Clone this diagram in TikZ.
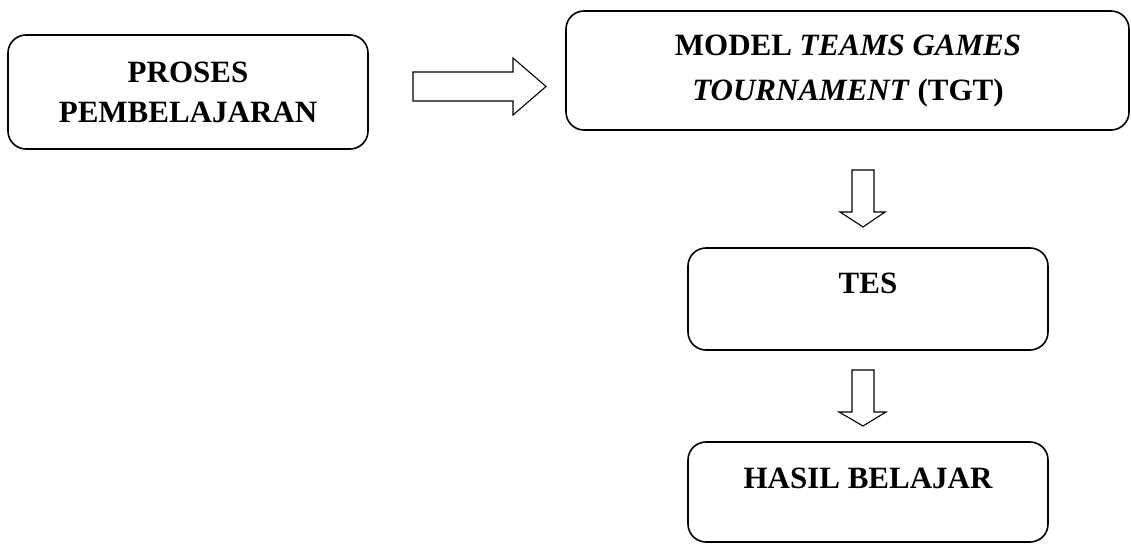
\documentclass[tikz,border=0pt]{standalone}
\usepackage{fontspec}
\setmainfont{Liberation Serif}
\begin{document}
\begin{tikzpicture}[x=1pt,y=-1pt,
  box/.style={draw=black,line width=1.6pt,rounded corners=18pt,rectangle,inner sep=0pt},
  blockarrow/.style={draw=black,line width=1.1pt,line join=miter,fill=white},
  txt/.style={font=\fontsize{31}{40}\selectfont\bfseries,align=center,inner sep=0pt,anchor=base}]
\useasboundingbox (0,0) rectangle (1131,543);
% boxes
\node[box,minimum width=360pt,minimum height=114pt] (b1) at (188,92) {};
\node[box,minimum width=563pt,minimum height=119pt] (b2) at (847.5,70.5) {};
\node[box,minimum width=360pt,minimum height=102pt] (b3) at (868,299) {};
\node[box,minimum width=360pt,minimum height=100pt] (b4) at (868,492) {};
% texts (anchor = baseline of last line)
\node[txt] (t1) at (188,122) {PROSES\\PEMBELAJARAN};
\node[txt,font=\fontsize{31}{45}\selectfont\bfseries] (t2) at (848,100) {MODEL \textit{TEAMS GAMES}\\\textit{TOURNAMENT} (TGT)};
\node[txt] (t3) at (868,293) {TES};
\node[txt] (t4) at (868,488) {HASIL BELAJAR};
% block arrows
\draw[blockarrow] (413,72) -- (513,72) -- (513,58) -- (546,86.5) -- (513,115) -- (513,101) -- (413,101) -- cycle;
\draw[blockarrow] (852,170) -- (874,170) -- (874,212) -- (885,212) -- (863,227) -- (840,212) -- (852,212) -- cycle;
\draw[blockarrow] (852,370) -- (874,370) -- (874,412) -- (886,412) -- (863,426) -- (839,412) -- (852,412) -- cycle;
\end{tikzpicture}
\end{document}
